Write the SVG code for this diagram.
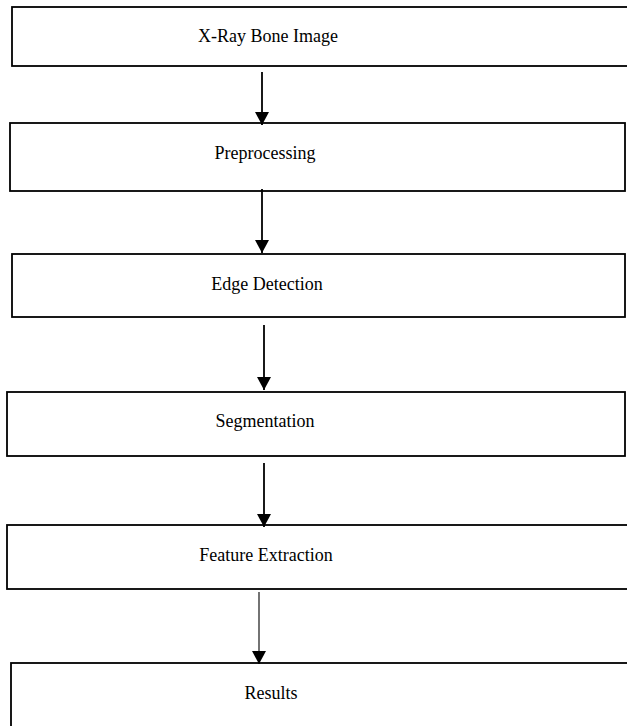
<svg xmlns="http://www.w3.org/2000/svg" width="627" height="726" viewBox="0 0 627 726">
<style>
.box{fill:#fff;stroke:#000;stroke-width:1.8}
.lbl{font-family:"Liberation Serif","Times New Roman",serif;font-size:18px;fill:#000;text-anchor:middle}
.con{stroke:#000;stroke-width:1.8;fill:none}
.thin{stroke:#000;stroke-width:1.1;fill:none}
</style>
<defs>
<marker id="ah" markerUnits="userSpaceOnUse" markerWidth="14" markerHeight="14" refX="13" refY="7" orient="auto">
<path d="M0,0 L13,7 L0,14 Z" fill="#000"/>
</marker>
</defs>
<rect width="627" height="726" fill="#fff"/>
<g id="n1"><rect class="box" x="12" y="7" width="625" height="59"/><text class="lbl" x="268" y="42">X-Ray Bone Image</text></g>
<g id="n2"><rect class="box" x="10" y="123" width="615" height="68"/><text class="lbl" x="265" y="159">Preprocessing</text></g>
<g id="n3"><rect class="box" x="12" y="254" width="613" height="63"/><text class="lbl" x="267" y="290">Edge Detection</text></g>
<g id="n4"><rect class="box" x="7" y="392" width="618" height="64"/><text class="lbl" x="265" y="427">Segmentation</text></g>
<g id="n5"><rect class="box" x="7" y="525" width="625" height="64"/><text class="lbl" x="266" y="561">Feature Extraction</text></g>
<g id="n6"><rect class="box" x="11" y="663" width="625" height="70"/><text class="lbl" x="271" y="699">Results</text></g>
<g id="connectors">
<line class="con" x1="262" y1="72" x2="262" y2="125" marker-end="url(#ah)"/>
<line class="con" x1="262" y1="189" x2="262" y2="253" marker-end="url(#ah)"/>
<line class="con" x1="264" y1="325" x2="264" y2="390" marker-end="url(#ah)"/>
<line class="con" x1="264" y1="463" x2="264" y2="527" marker-end="url(#ah)"/>
<line class="thin" x1="259" y1="592" x2="259" y2="664" marker-end="url(#ah)"/>
</g>
</svg>
